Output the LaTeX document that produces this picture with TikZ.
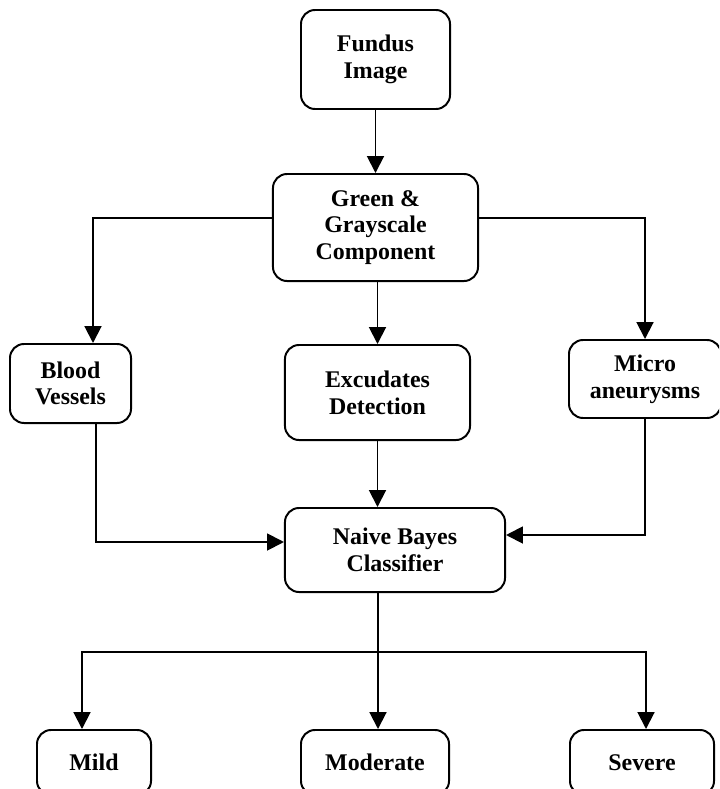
\documentclass[tikz,border=0pt]{standalone}
\usepackage{fontspec}
\setmainfont{Liberation Serif}
\usetikzlibrary{arrows.meta, calc}

\begin{document}
\begin{tikzpicture}[x=0.025cm, y=-0.025cm,
	font=\bfseries\fontsize{17}{19}\selectfont,
	box/.style={draw, line width=1.4pt, rounded corners=10pt, align=center, inner sep=0pt},
	arr/.style={line width=1.4pt, -{Triangle[length=12pt,width=12pt]}}]

	\useasboundingbox (0,0) rectangle (719,789);
	\clip (0,0) rectangle (719,789);

	% Input and preprocessing
	\node[box, minimum width=3.725cm, minimum height=2.475cm] (fundus) at (375.5,59.5) {Fundus\\Image};
	\node[box, minimum width=5.125cm, minimum height=2.675cm] (green) at (375.5,227.5) {Green \&\\Grayscale\\Component};

	% Feature extraction
	\node[box, minimum width=3.025cm, minimum height=1.975cm] (blood) at (70.5,383.5) {Blood\\Vessels};
	\node[box, minimum width=4.625cm, minimum height=2.375cm] (excud) at (377.5,392.5) {Excudates\\Detection};
	\node[box, minimum width=3.8cm, minimum height=1.95cm] (micro) at (645,379) {Micro\\aneurysms};

	% Classifier
	\node[box, minimum width=5.5cm, minimum height=2.1cm] (naive) at (395,550) {Naive Bayes\\Classifier};

	% Grades
	\node[box, minimum width=2.85cm, minimum height=1.625cm] (mild) at (94,762.5) {Mild};
	\node[box, minimum width=3.7cm, minimum height=1.625cm] (moderate) at (375,762.5) {Moderate};
	\node[box, minimum width=3.6cm, minimum height=1.625cm] (severe) at (642,762.5) {Severe};

	% Bend points
	\coordinate (tl) at (93,218);
	\coordinate (tr) at (645,218);
	\coordinate (bl) at (96,542);
	\coordinate (mr) at (645,535);
	\coordinate (bj) at (378,652);
	\coordinate (bll) at (82,652);
	\coordinate (brr) at (646,652);

	% Connectors
	\draw[arr] (fundus) -- (green);
	\draw[arr] (green.west |- tl) -| (blood.north -| tl);
	\draw[arr] (green.east |- tr) -| (micro.north -| tr);
	\draw[arr] (green.south -| excud) -- (excud.north);
	\draw[arr] (excud.south) -- (excud.south |- naive.north);
	\draw[arr] (blood.south -| bl) |- (naive.west |- bl);
	\draw[arr] (micro.south -| mr) |- (naive.east |- mr);

	\draw[arr] (naive.south -| bj) -- (moderate.north -| bj);
	\draw[arr] (bj) -| (mild.north -| bll);
	\draw[arr] (bj) -| (severe.north -| brr);

\end{tikzpicture}
\end{document}
